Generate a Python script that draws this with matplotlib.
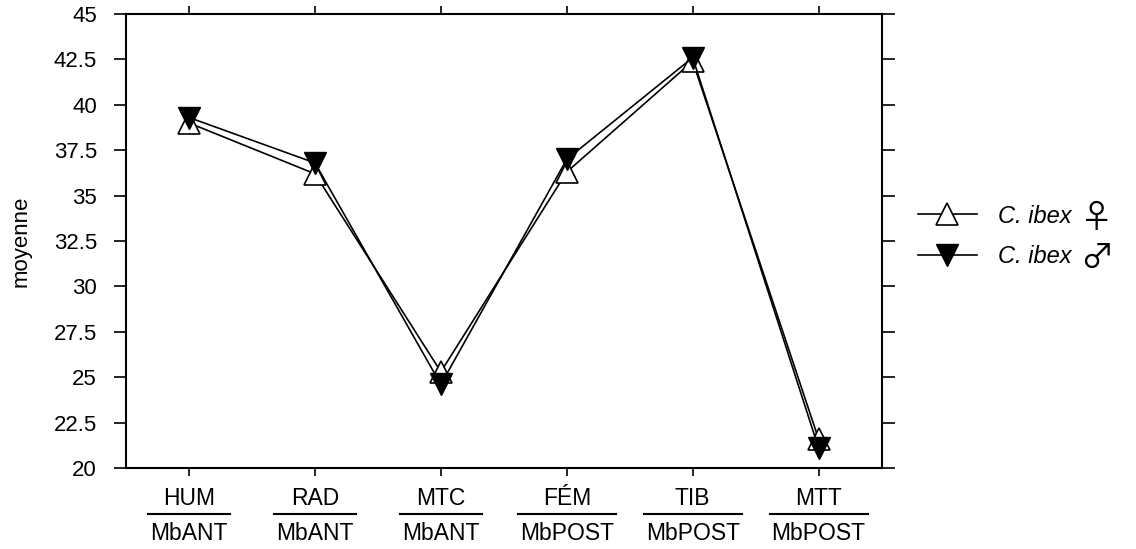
import numpy as np
import matplotlib
matplotlib.use('Agg')
import matplotlib.pyplot as plt
import matplotlib.transforms as mtransforms
from matplotlib.lines import Line2D

plt.rcParams['font.family'] = ['Liberation Sans', 'DejaVu Sans']

# data
num_labels = ['HUM', 'RAD', 'MTC', 'FÉM', 'TIB', 'MTT']
den_labels = ['MbANT', 'MbANT', 'MbANT', 'MbPOST', 'MbPOST', 'MbPOST']
series_names = ['C. ibex', 'C. ibex']
sex_symbols = ['♀', '♂']
female = [39.0, 36.2, 25.3, 36.3, 42.4, 21.6]
male = [39.3, 36.8, 24.6, 37.0, 42.6, 21.1]
yticks = [20, 22.5, 25, 27.5, 30, 32.5, 35, 37.5, 40, 42.5, 45]
ytick_labels = ['20', '22.5', '25', '27.5', '30', '32.5', '35', '37.5', '40', '42.5', '45']

x = np.arange(len(num_labels))

fig = plt.figure(figsize=(11.36, 5.49), dpi=100)
ax = fig.add_axes([0.111, 0.1475, 0.665, 0.827])

ax.plot(x, female, color='k', linewidth=1.2, marker='^', markersize=16,
        markerfacecolor='white', markeredgecolor='k', markeredgewidth=1.2,
        label=series_names[0], zorder=3)
ax.plot(x, male, color='k', linewidth=1.2, marker='v', markersize=16,
        markerfacecolor='k', markeredgecolor='k',
        label=series_names[1], zorder=4)

ax.set_xlim(-0.5, 5.5)
ax.set_ylim(20, 45)
ax.set_yticks(yticks)
ax.set_yticklabels(ytick_labels, fontsize=16)
ax.set_xticks(x)
ax.set_xticklabels([])
ax.tick_params(axis='both', direction='out', length=9, width=1.2,
               top=True, right=True, labelright=False, labeltop=False)
ax.tick_params(axis='x', length=6)
ax.tick_params(axis='y', pad=12)
for s in ax.spines.values():
    s.set_linewidth(1.5)

ax.set_ylabel('moyenne', fontsize=16, labelpad=16)

# fraction-style category labels
trans = mtransforms.blended_transform_factory(ax.transData, ax.transAxes)
den_texts = []
for i in range(len(x)):
    ax.text(x[i], -0.0815, num_labels[i], transform=trans, ha='center',
            va='baseline', fontsize=16.5, clip_on=False)
    den_texts.append(ax.text(x[i], -0.1586, den_labels[i], transform=trans,
                             ha='center', va='baseline', fontsize=16.5, clip_on=False))

leg = ax.legend(loc='center left', bbox_to_anchor=(1.02, 0.51), frameon=False,
                prop={'style': 'italic', 'size': 17}, handlelength=2.5,
                labelspacing=0.75, handletextpad=0.9)

fig.canvas.draw()
renderer = fig.canvas.get_renderer()
inv = fig.transFigure.inverted()
ybar = trans.transform((0, -0.101))[1]
for t in den_texts:
    bb = t.get_window_extent(renderer)
    p0 = inv.transform((bb.x0 - 2, ybar))
    p1 = inv.transform((bb.x1 + 2, ybar))
    fig.add_artist(Line2D([p0[0], p1[0]], [p0[1], p1[1]], color='k', linewidth=1.5))

# sex symbols after the legend labels, drawn larger
for t, sym in zip(leg.get_texts(), sex_symbols):
    bb = t.get_window_extent(renderer)
    pos = inv.transform((bb.x1 + 8, (bb.y0 + bb.y1) / 2 - 2))
    fig.text(pos[0], pos[1], sym, fontsize=24,
             family=['Noto Sans CJK JP', 'DejaVu Sans'], ha='left', va='center')

fig.savefig('out.png', dpi=100)
